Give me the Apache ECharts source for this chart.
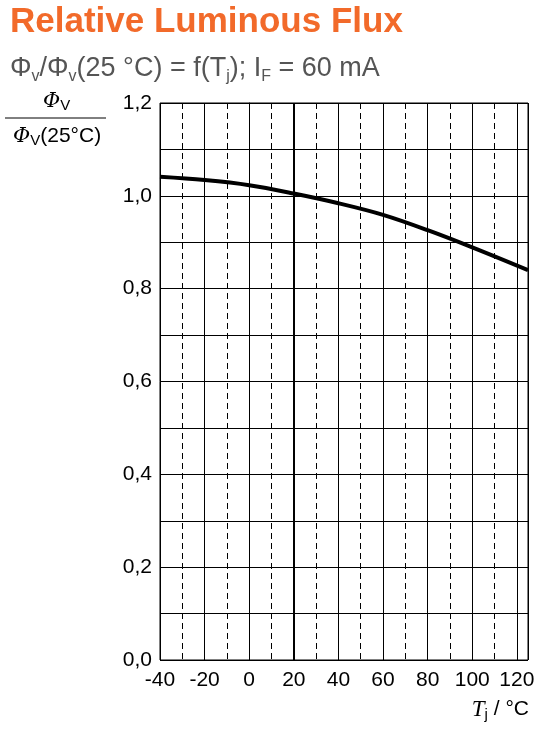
<!DOCTYPE html>
<html lang="en">
<head>
    <meta charset="UTF-8">
    <title>Relative Luminous Flux</title>
    <script src="https://cdn.jsdelivr.net/npm/echarts@6/dist/echarts.min.js"></script>
    <style>
        html, body { margin: 0; padding: 0; background: #fff; }
    </style>
</head>
<body>
    <div id="main" style="width: 540px; height: 730px;"></div>
    <script>
        // junction temperature (°C) and relative flux
        const temps = [-40, -20, 0, 20, 40, 60, 80, 100, 125]
        const flux = [1.041, 1.034, 1.023, 1.005, 0.984, 0.959, 0.926, 0.889, 0.840]
        const xLabels = [-40, -20, 0, 20, 40, 60, 80, 100, 120]

        const font = 'Liberation Sans, Arial, sans-serif'

        function init () {
            const chart = echarts.init(document.getElementById('main'), null, { renderer: 'canvas' })
            const option = {
                animation: false,
                textStyle: { fontFamily: font },
                title: [
                    {
                        text: 'Relative Luminous Flux',
                        left: 5, top: 0,
                        textStyle: { color: '#F26A2A', fontSize: 35, fontWeight: 'bold', fontFamily: font }
                    },
                    {
                        text: 'Φ{s|v}/Φ{s|v}(25 °C) = f(T{s|j}); I{s|F} = 60 mA',
                        left: 5, top: 47,
                        textStyle: {
                            color: '#555', fontSize: 27, fontWeight: 'normal', fontFamily: font,
                            rich: { s: { fontSize: 16, color: '#555', fontWeight: 'normal', verticalAlign: 'bottom', padding: [17, 0, 0, 0] } }
                        }
                    }
                ],
                grid: {
                    left: 160, right: 12, top: 103, bottom: 70,
                    show: true, borderColor: '#000', borderWidth: 1
                },
                xAxis: [
                    {
                        type: 'value', min: -40, max: 125, interval: 20,
                        axisLine: { show: false },
                        axisTick: { show: false },
                        axisLabel: {
                            color: '#000', fontSize: 21, margin: 10, fontFamily: font,
                            showMaxLabel: false,
                            formatter: v => (xLabels.indexOf(v) >= 0 ? String(v) : '')
                        },
                        splitLine: { lineStyle: { color: '#000', width: 1 } },
                        z: 2
                    },
                    {
                        type: 'value', min: -40, max: 125, interval: 10,
                        axisLine: { show: false },
                        axisTick: { show: false },
                        axisLabel: { show: false },
                        splitLine: { lineStyle: { color: '#000', width: 1, type: [6, 4] } },
                        z: 1
                    }
                ],
                yAxis: [
                    {
                        type: 'value', min: 0, max: 1.2, interval: 0.2,
                        axisLine: { show: true, lineStyle: { color: '#000' } },
                        axisTick: { show: true, length: 5, lineStyle: { color: '#000' } },
                        axisLabel: {
                            color: '#000', fontSize: 21, margin: 8, fontFamily: font,
                            formatter: v => v.toFixed(1).replace('.', ',')
                        },
                        splitLine: { lineStyle: { color: '#000', width: 1 } }
                    },
                    {
                        type: 'value', min: 0, max: 1.2, interval: 0.1,
                        position: 'left',
                        axisLine: { show: false },
                        axisTick: { show: false },
                        axisLabel: { show: false },
                        splitLine: { lineStyle: { color: '#000', width: 1 } }
                    }
                ],
                series: [
                    {
                        type: 'line',
                        data: temps.map((t, i) => [t, flux[i]]),
                        smooth: 0.35,
                        symbol: 'none',
                        lineStyle: { color: '#000', width: 4 },
                        z: 5,
                        markLine: {
                            silent: true, symbol: 'none', label: { show: false },
                            lineStyle: { color: '#000', width: 2, type: 'solid' },
                            data: [{ xAxis: 20 }]
                        }
                    }
                ],
                graphic: [
                    {
                        type: 'text', left: 43, top: 91,
                        style: {
                            text: '{i|Φ}{s|V}',
                            rich: {
                                i: { fontSize: 21, fontStyle: 'italic', fontFamily: 'DejaVu Serif, serif', fill: '#000' },
                                s: { fontSize: 15, fontFamily: font, fill: '#000', padding: [9, 0, 0, 0] }
                            }
                        }
                    },
                    {
                        type: 'line',
                        shape: { x1: 5, y1: 118, x2: 106, y2: 118 },
                        style: { stroke: '#000', lineWidth: 1 }
                    },
                    {
                        type: 'text', left: 13, top: 126,
                        style: {
                            text: '{i|Φ}{s|V}{n|(25°C)}',
                            rich: {
                                i: { fontSize: 21, fontStyle: 'italic', fontFamily: 'DejaVu Serif, serif', fill: '#000' },
                                s: { fontSize: 15, fontFamily: font, fill: '#000', padding: [9, 0, 0, 0] },
                                n: { fontSize: 21, fontFamily: font, fill: '#000' }
                            }
                        }
                    },
                    {
                        type: 'text', right: 11, top: 698,
                        style: {
                            text: '{i|T}{s|j}{n| / °C}',
                            rich: {
                                i: { fontSize: 23, fontStyle: 'italic', fontFamily: 'Liberation Serif, serif', fill: '#000' },
                                s: { fontSize: 15, fontFamily: font, fill: '#000', padding: [10, 0, 0, 0] },
                                n: { fontSize: 21, fontFamily: font, fill: '#000' }
                            }
                        }
                    }
                ]
            }
            chart.setOption(option)
        }

        init()
    </script>
</body>
</html>
